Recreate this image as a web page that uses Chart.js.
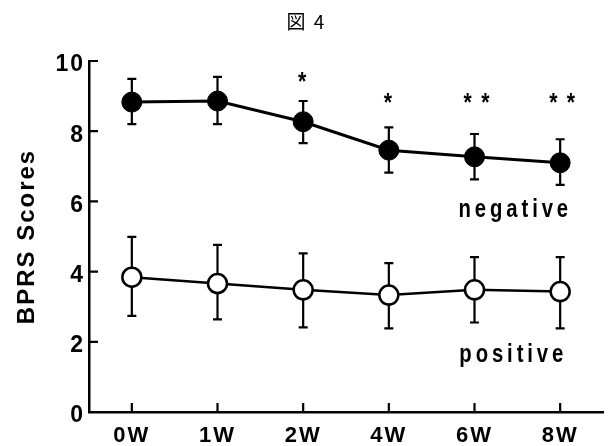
<!DOCTYPE html>
<html>
<head>
<meta charset="utf-8">
<script src="https://cdn.jsdelivr.net/npm/chart.js@4.4.0/dist/chart.umd.min.js"></script>
<style>
    html, body { margin: 0; padding: 0; background: #fff; }
    #wrap { width: 615px; height: 446px; }
</style>
</head>
<body>
<div id="wrap"><canvas id="bprsChart" width="615" height="446"></canvas></div>
<script>
// data
const weeks = ["0W", "1W", "2W", "4W", "6W", "8W"];
const yTicks = [0, 2, 4, 6, 8, 10];

const negative = [8.83, 8.86, 8.27, 7.46, 7.27, 7.10];
const negativeHi = [9.49, 9.55, 8.86, 8.11, 7.92, 7.77];
const negativeLo = [8.20, 8.20, 7.66, 6.82, 6.63, 6.47];

const positive = [3.84, 3.66, 3.48, 3.33, 3.48, 3.43];
const positiveHi = [4.99, 4.76, 4.52, 4.24, 4.41, 4.41];
const positiveLo = [2.74, 2.64, 2.41, 2.38, 2.55, 2.38];

// significance marks and the score level they sit at
const marks = ["", "", "*", "*", "* *", "* *"];
const markLevel = [null, null, 9.55, 8.93, 8.93, 8.93];

const FONT = "'Liberation Sans', Arial, sans-serif";

// error bars under the points
const errorBars = {
    id: "errorBars",
    beforeDatasetsDraw(chart) {
        const { ctx, scales: { x, y } } = chart;
        const sets = [[negativeHi, negativeLo], [positiveHi, positiveLo]];
        ctx.save();
        ctx.strokeStyle = "#000";
        ctx.lineWidth = 2.2;
        sets.forEach(([hi, lo]) => {
            hi.forEach((v, i) => {
                const px = x.getPixelForValue(i);
                const top = y.getPixelForValue(v);
                const bot = y.getPixelForValue(lo[i]);
                ctx.beginPath();
                ctx.moveTo(px, top);
                ctx.lineTo(px, bot);
                ctx.moveTo(px - 4.5, top);
                ctx.lineTo(px + 4.5, top);
                ctx.moveTo(px - 4.5, bot);
                ctx.lineTo(px + 4.5, bot);
                ctx.stroke();
            });
        });
        ctx.restore();
    },
};

// condensed text helper (the figure uses a narrow bold face)
function narrowText(ctx, text, cx, cy, size, spacing, squeeze) {
    ctx.save();
    ctx.translate(cx, cy);
    ctx.scale(squeeze, 1);
    ctx.font = "bold " + size + "px " + FONT;
    ctx.letterSpacing = spacing + "px";
    ctx.textAlign = "center";
    ctx.textBaseline = "middle";
    ctx.fillText(text, spacing / 2, 0);
    ctx.restore();
}

// inward ticks, asterisks and the series names
const extras = {
    id: "extras",
    afterDraw(chart) {
        const { ctx, chartArea, scales: { x, y } } = chart;
        ctx.save();
        ctx.strokeStyle = "#000";
        ctx.lineWidth = 2.2;
        ctx.beginPath();
        yTicks.forEach((t) => {
            if (t === 0) return;
            const py = y.getPixelForValue(t);
            ctx.moveTo(chartArea.left, py);
            ctx.lineTo(chartArea.left + 9, py);
        });
        weeks.forEach((w, i) => {
            const px = x.getPixelForValue(i);
            ctx.moveTo(px, chartArea.bottom);
            ctx.lineTo(px, chartArea.bottom - 9);
        });
        ctx.stroke();

        ctx.fillStyle = "#000";
        marks.forEach((m, i) => {
            if (!m) return;
            const px = x.getPixelForValue(i) + (m.length > 1 ? 2 : -1);
            narrowText(ctx, m, px, y.getPixelForValue(markLevel[i]) + 6, 25, 2, 0.85);
        });

        const cx = (x.getPixelForValue(4) + x.getPixelForValue(5)) / 2 - 4;
        narrowText(ctx, "negative", cx, y.getPixelForValue(5.75), 26, 5, 0.78);
        narrowText(ctx, "positive", cx - 2, y.getPixelForValue(1.62), 26, 5, 0.78);
        ctx.restore();
    },
};

const spacing = {
    id: "spacing",
    beforeDraw(chart) {
        chart.ctx.letterSpacing = "2px";
    },
};

const ctx = document.getElementById("bprsChart").getContext("2d");
new Chart(ctx, {
    type: "line",
    data: {
        labels: weeks,
        datasets: [
            {
                label: "negative",
                data: negative,
                borderColor: "#000",
                borderWidth: 3,
                pointRadius: 10,
                pointBackgroundColor: "#000",
                pointBorderColor: "#000",
                pointBorderWidth: 1,
                tension: 0,
            },
            {
                label: "positive",
                data: positive,
                borderColor: "#000",
                borderWidth: 2.5,
                pointRadius: 9.5,
                pointBackgroundColor: "#fff",
                pointBorderColor: "#000",
                pointBorderWidth: 2.5,
                tension: 0,
            },
        ],
    },
    options: {
        responsive: false,
        animation: false,
        layout: { padding: { left: 0, right: 2, top: 0, bottom: 0 } },
        plugins: {
            legend: { display: false },
            tooltip: { enabled: false },
            title: {
                display: true,
                text: "図 4",
                color: "#000",
                font: { family: "'Noto Sans CJK JP', 'Liberation Serif', serif", size: 19, weight: "normal", lineHeight: 1.2 },
                padding: { top: 10, bottom: 28.2 },
            },
        },
        scales: {
            x: {
                offset: true,
                grid: { display: false },
                border: { display: true, color: "#000", width: 2.5 },
                ticks: {
                    color: "#000",
                    font: { family: FONT, size: 22, weight: "bold" },
                    padding: 3,
                },
                afterFit(scale) {
                    scale.height = 34;
                },
            },
            y: {
                min: 0,
                max: 10,
                grid: { display: false },
                border: { display: true, color: "#000", width: 2.5 },
                ticks: {
                    stepSize: 2,
                    color: "#000",
                    font: { family: FONT, size: 23, weight: "bold" },
                    padding: -4,
                    labelOffset: 4,
                },
                title: {
                    display: true,
                    text: "BPRS Scores",
                    color: "#000",
                    font: { family: FONT, size: 24, weight: "bold" },
                    padding: { top: 13, bottom: 0 },
                },
                afterFit(scale) {
                    scale.width = 89;
                },
            },
        },
    },
    plugins: [spacing, errorBars, extras],
});
</script>
</body>
</html>
